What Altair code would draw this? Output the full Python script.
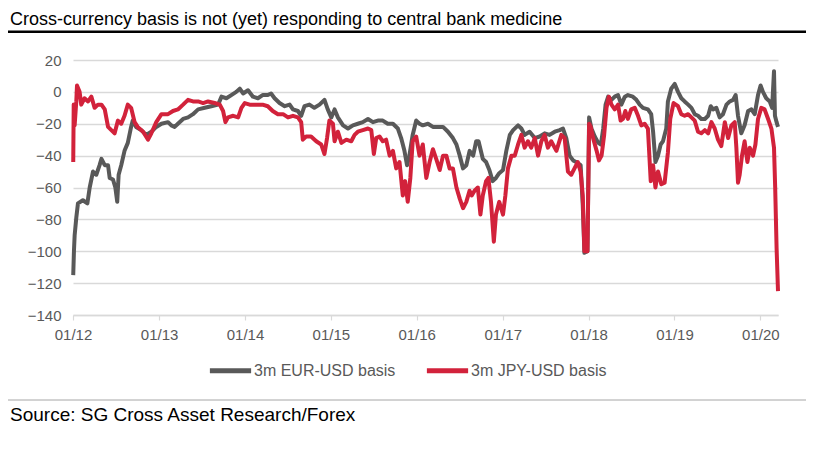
import altair as alt
import pandas as pd

# ---------------- data ----------------
eur_dates = [
    "2012-01-02", "2012-01-05", "2012-01-08", "2012-01-15", "2012-01-22", "2012-02-12",
    "2012-03-02", "2012-03-12", "2012-03-26", "2012-04-09", "2012-04-23", "2012-05-01",
    "2012-05-15", "2012-05-29", "2012-06-05", "2012-06-19", "2012-06-29", "2012-07-07",
    "2012-07-13", "2012-07-24", "2012-08-07", "2012-08-21", "2012-09-04", "2012-09-11",
    "2012-09-25", "2012-10-17", "2012-11-07", "2012-11-29", "2012-12-20", "2013-01-11",
    "2013-02-08", "2013-02-22", "2013-03-08", "2013-03-22", "2013-04-13", "2013-05-04",
    "2013-05-25", "2013-06-16", "2013-07-14", "2013-08-11", "2013-09-09", "2013-09-23",
    "2013-10-14", "2013-11-04", "2013-11-25", "2013-12-10", "2013-12-24", "2014-01-14",
    "2014-02-04", "2014-02-25", "2014-03-17", "2014-04-08", "2014-04-22", "2014-05-07",
    "2014-05-28", "2014-06-19", "2014-07-10", "2014-07-24", "2014-08-14", "2014-08-28",
    "2014-09-11", "2014-10-02", "2014-10-23", "2014-11-14", "2014-12-05", "2014-12-19",
    "2015-01-03", "2015-01-17", "2015-01-31", "2015-02-22", "2015-03-15", "2015-04-05",
    "2015-04-26", "2015-05-17", "2015-06-08", "2015-06-29", "2015-07-20", "2015-08-10",
    "2015-08-31", "2015-09-22", "2015-10-13", "2015-10-27", "2015-11-10", "2015-11-21",
    "2015-12-01", "2015-12-15", "2015-12-30", "2016-01-13", "2016-01-27", "2016-02-18",
    "2016-03-10", "2016-03-31", "2016-04-22", "2016-05-13", "2016-06-03", "2016-06-18",
    "2016-07-02", "2016-07-16", "2016-07-30", "2016-08-13", "2016-08-28", "2016-09-10",
    "2016-09-20", "2016-10-08", "2016-10-22", "2016-11-05", "2016-11-19", "2016-12-03",
    "2016-12-17", "2017-01-02", "2017-01-16", "2017-01-31", "2017-02-14", "2017-03-07",
    "2017-03-21", "2017-04-04", "2017-04-25", "2017-05-17", "2017-06-07", "2017-06-28",
    "2017-07-19", "2017-08-10", "2017-08-31", "2017-09-14", "2017-09-28", "2017-10-12",
    "2017-10-27", "2017-11-09", "2017-11-28", "2017-12-07", "2017-12-14", "2017-12-27",
    "2018-01-03", "2018-01-13", "2018-01-27", "2018-02-11", "2018-02-22", "2018-03-04",
    "2018-03-14", "2018-03-25", "2018-04-08", "2018-04-22", "2018-05-06", "2018-05-20",
    "2018-06-04", "2018-06-17", "2018-07-08", "2018-07-23", "2018-08-06", "2018-08-20",
    "2018-09-10", "2018-09-24", "2018-10-02", "2018-10-12", "2018-10-23", "2018-11-03",
    "2018-11-13", "2018-11-27", "2018-12-04", "2018-12-18", "2019-01-02", "2019-01-16",
    "2019-01-30", "2019-02-13", "2019-02-28", "2019-03-14", "2019-03-28", "2019-04-11",
    "2019-04-25", "2019-05-10", "2019-05-24", "2019-06-04", "2019-06-14", "2019-06-28",
    "2019-07-12", "2019-07-26", "2019-08-10", "2019-08-24", "2019-09-07", "2019-09-18",
    "2019-09-28", "2019-10-12", "2019-10-26", "2019-11-10", "2019-11-24", "2019-12-08",
    "2019-12-22", "2020-01-02", "2020-01-12", "2020-01-26", "2020-02-10", "2020-02-20",
    "2020-02-28", "2020-03-03", "2020-03-10", "2020-03-16",
]
eur_values = [
    -115, -100, -90, -79, -70, -68,
    -70, -60, -50, -52, -46, -42,
    -46, -46, -54, -55, -60, -69,
    -52, -46, -37, -32, -22, -18,
    -22, -24, -27, -25, -22, -20,
    -19, -21, -22, -20, -17, -16,
    -14, -11, -10, -9, -8, -3,
    -4, -2, 0, 2, -1, 1,
    -3, -4, -2, -2, -1, -4,
    -7, -9, -8, -11, -12, -15,
    -9, -8, -10, -8, -5, -11,
    -16, -11, -16, -21, -23, -21,
    -20, -19, -17, -19, -18, -18,
    -20, -20, -23, -29, -37, -46,
    -40, -27, -18, -20, -21, -20,
    -22, -22, -22, -25, -29, -33,
    -40, -48, -46, -37, -40, -31,
    -31, -42, -44, -49, -56, -54,
    -51, -49, -37, -27, -24, -21,
    -23, -27, -25, -29, -28, -26,
    -27, -25, -24, -23, -29, -40,
    -43, -44, -46, -71, -101, -100,
    -16, -23, -28, -32, -33, -23,
    -8, -3, -5, -3, -2, -8,
    -3, -2, -3, -5, -8, -10,
    -11, -14, -25, -44, -40, -33,
    -31, -23, -6, 2, 5, 0,
    -4, -6, -8, -10, -14, -15,
    -17, -17, -15, -9, -11, -10,
    -16, -14, -8, -6, -5, -2,
    -15, -26, -21, -12, -11, -14,
    -2, 4, 0, -4, -6, -10,
    13, -15, -19, -22,
]

jpy_dates = [
    "2012-01-02", "2012-01-04", "2012-01-08", "2012-01-15", "2012-01-18", "2012-01-29",
    "2012-02-05", "2012-02-19", "2012-03-05", "2012-03-19", "2012-04-02", "2012-04-16",
    "2012-05-01", "2012-05-15", "2012-05-29", "2012-06-12", "2012-06-26", "2012-07-10",
    "2012-07-24", "2012-08-07", "2012-08-21", "2012-09-04", "2012-09-19", "2012-10-02",
    "2012-10-25", "2012-11-15", "2012-11-29", "2012-12-20", "2013-01-11", "2013-02-08",
    "2013-03-01", "2013-03-22", "2013-04-13", "2013-05-04", "2013-05-25", "2013-06-16",
    "2013-07-07", "2013-07-28", "2013-08-25", "2013-09-16", "2013-09-30", "2013-10-10",
    "2013-10-21", "2013-11-12", "2013-12-03", "2013-12-17", "2013-12-31", "2014-01-21",
    "2014-02-18", "2014-03-17", "2014-04-08", "2014-04-29", "2014-05-21", "2014-06-12",
    "2014-07-03", "2014-07-24", "2014-08-14", "2014-08-28", "2014-09-04", "2014-09-18",
    "2014-10-09", "2014-10-31", "2014-11-21", "2014-12-05", "2014-12-16", "2014-12-26",
    "2015-01-10", "2015-01-17", "2015-01-31", "2015-02-15", "2015-03-08", "2015-03-29",
    "2015-04-12", "2015-04-26", "2015-05-17", "2015-06-08", "2015-06-22", "2015-07-03",
    "2015-07-13", "2015-07-27", "2015-08-10", "2015-08-24", "2015-09-08", "2015-09-22",
    "2015-10-06", "2015-10-20", "2015-11-03", "2015-11-13", "2015-11-24", "2015-12-05",
    "2015-12-15", "2015-12-30", "2016-01-13", "2016-01-27", "2016-02-11", "2016-02-25",
    "2016-03-10", "2016-03-24", "2016-04-08", "2016-04-22", "2016-05-06", "2016-05-20",
    "2016-06-03", "2016-06-18", "2016-07-02", "2016-07-16", "2016-07-30", "2016-08-13",
    "2016-08-22", "2016-09-03", "2016-09-17", "2016-09-28", "2016-10-08", "2016-10-22",
    "2016-11-01", "2016-11-12", "2016-11-24", "2016-12-03", "2016-12-17", "2017-01-02",
    "2017-01-12", "2017-01-23", "2017-02-07", "2017-02-21", "2017-03-07", "2017-03-21",
    "2017-04-04", "2017-04-18", "2017-05-02", "2017-05-17", "2017-05-31", "2017-06-14",
    "2017-06-28", "2017-07-12", "2017-07-26", "2017-08-17", "2017-09-07", "2017-09-21",
    "2017-10-05", "2017-10-19", "2017-11-02", "2017-11-16", "2017-11-28", "2017-12-07",
    "2017-12-14", "2017-12-27", "2018-01-03", "2018-01-10", "2018-01-20", "2018-02-04",
    "2018-02-14", "2018-02-25", "2018-03-08", "2018-03-18", "2018-03-28", "2018-04-08",
    "2018-04-22", "2018-05-06", "2018-05-17", "2018-05-27", "2018-06-06", "2018-06-17",
    "2018-07-01", "2018-07-16", "2018-07-30", "2018-08-13", "2018-08-27", "2018-09-10",
    "2018-09-22", "2018-10-02", "2018-10-12", "2018-10-23", "2018-11-06", "2018-11-20",
    "2018-12-04", "2018-12-14", "2018-12-28", "2019-01-16", "2019-01-30", "2019-02-13",
    "2019-02-28", "2019-03-14", "2019-03-28", "2019-04-11", "2019-04-25", "2019-05-10",
    "2019-05-24", "2019-06-07", "2019-06-21", "2019-07-05", "2019-07-19", "2019-08-03",
    "2019-08-17", "2019-08-31", "2019-09-14", "2019-09-21", "2019-09-28", "2019-10-05",
    "2019-10-15", "2019-10-26", "2019-11-07", "2019-11-17", "2019-12-01", "2019-12-11",
    "2019-12-22", "2020-01-05", "2020-01-19", "2020-02-03", "2020-02-17", "2020-02-28",
    "2020-03-04", "2020-03-10", "2020-03-16",
]
jpy_values = [
    -44, -8, -21, -6, 4, 0,
    -8, -4, -6, -3, -10, -8,
    -8, -11, -22, -24, -26, -18,
    -20, -15, -8, -10, -19, -22,
    -25, -30, -26, -19, -14, -14,
    -12, -11, -8, -5, -6, -6,
    -7, -6, -7, -8, -12, -19,
    -16, -15, -16, -10, -7, -8,
    -8, -8, -9, -12, -14, -14,
    -16, -15, -16, -19, -30, -28,
    -28, -31, -33, -39, -29, -18,
    -20, -31, -25, -32, -30, -31,
    -27, -25, -24, -23, -24, -39,
    -29, -28, -31, -30, -40, -37,
    -48, -44, -65, -56, -69, -54,
    -31, -28, -40, -33, -54, -44,
    -36, -42, -49, -40, -40, -48,
    -48, -60, -67, -73, -69, -62,
    -65, -62, -60, -77, -65, -56,
    -54, -69, -94, -77, -69, -77,
    -65, -48, -40, -40, -33, -27,
    -35, -31, -35, -29, -40, -31,
    -27, -35, -31, -37, -27, -29,
    -50, -52, -48, -44, -50, -65,
    -100, -100, -20, -22, -29, -37,
    -43, -40, -27, -10, -3, -8,
    -11, -8, -18, -17, -12, -17,
    -11, -10, -15, -21, -20, -23,
    -56, -46, -60, -50, -58, -57,
    -38, -17, -7, -9, -14, -15,
    -14, -16, -18, -25, -26, -24,
    -26, -19, -23, -30, -34, -19,
    -29, -21, -19, -35, -57, -52,
    -40, -31, -44, -35, -40, -33,
    -17, -10, -11, -17, -23, -35,
    -60, -98, -125,
]

series_names = ["3m EUR-USD basis", "3m JPY-USD basis"]
series_colors = ["#595959", "#d2223b"]
year_ticks = list(range(2012, 2021))
y_ticks = [20, 0, -20, -40, -60, -80, -100, -120, -140]
title_text = "Cross-currency basis is not (yet) responding to central bank medicine"
source_text = "Source: SG Cross Asset Research/Forex"

FONT = "Liberation Sans"

eur_df = pd.DataFrame({"date": eur_dates, "value": eur_values, "series": series_names[0]})
jpy_df = pd.DataFrame({"date": jpy_dates, "value": jpy_values, "series": series_names[1]})

x_enc = alt.X(
    "date:T",
    scale=alt.Scale(
        type="utc",
        domain=[alt.DateTime(year=2012, month=1, date=1, utc=True),
                alt.DateTime(year=2020, month=3, date=16, utc=True)],
        nice=False,
    ),
    axis=alt.Axis(
        values=[alt.DateTime(year=y, month=1, date=1, utc=True) for y in year_ticks],
        labelExpr="utcFormat(datum.value, '%m/%y')",
        labelFlush=False, labelAlign="center", labelBound=False,
        title=None, grid=False,
        domain=True, domainColor="#d9d9d9", domainWidth=1.5,
        ticks=True, tickColor="#d9d9d9", tickSize=5, tickWidth=1.2,
        labelFont=FONT, labelFontSize=15, labelColor="#595959", labelPadding=7,
    ),
)
y_enc = alt.Y(
    "value:Q",
    scale=alt.Scale(domain=[-140, 20], nice=False, zero=False),
    axis=alt.Axis(
        values=y_ticks, title=None, grid=True, gridColor="#d9d9d9", gridWidth=1.3,
        domain=False, ticks=False, labelPadding=12,
        labelFont=FONT, labelFontSize=15, labelColor="#595959",
    ),
)
color_enc = alt.Color(
    "series:N",
    scale=alt.Scale(domain=series_names, range=series_colors),
    legend=alt.Legend(
        title=None, orient="none", legendX=134, legendY=287, direction="horizontal",
        symbolType="stroke", symbolSize=1700, symbolStrokeWidth=5,
        labelFont=FONT, labelFontSize=16, labelColor="#595959", labelOffset=0,
        columnPadding=20, padding=0,
    ),
)

eur_line = alt.Chart(eur_df).mark_line(strokeWidth=4, strokeJoin="round").encode(
    x=x_enc, y=y_enc, color=color_enc)
jpy_line = alt.Chart(jpy_df).mark_line(strokeWidth=4, strokeJoin="round").encode(
    x=x_enc, y=y_enc, color=color_enc)

one = pd.DataFrame({"t": [title_text], "s": [source_text]})

title_mark = alt.Chart(one).mark_text(
    align="left", baseline="alphabetic", font=FONT, fontSize=18, color="#000000"
).encode(text="t:N", x=alt.value(-63), y=alt.value(-35.5))

title_rule = alt.Chart(one).mark_rule(color="#000000", strokeWidth=2.5).encode(
    x=alt.value(-66), x2=alt.value(733), y=alt.value(-28.3))

source_rule = alt.Chart(one).mark_rule(color="#a6a6a6", strokeWidth=1).encode(
    x=alt.value(-65), x2=alt.value(733), y=alt.value(340))

source_mark = alt.Chart(one).mark_text(
    align="left", baseline="alphabetic", font=FONT, fontSize=19, color="#000000"
).encode(text="s:N", x=alt.value(-63), y=alt.value(361))

chart = alt.layer(eur_line, jpy_line, title_mark, title_rule, source_rule, source_mark).properties(
    width=705,
    height=255,
    autosize=alt.AutoSizeParams(type="none"),
    padding={"left": 65, "top": 52, "right": 28, "bottom": 127},
    background="#ffffff",
).configure_view(stroke=None)

chart.save("out.html", embed_options={"renderer": "svg", "actions": False})
